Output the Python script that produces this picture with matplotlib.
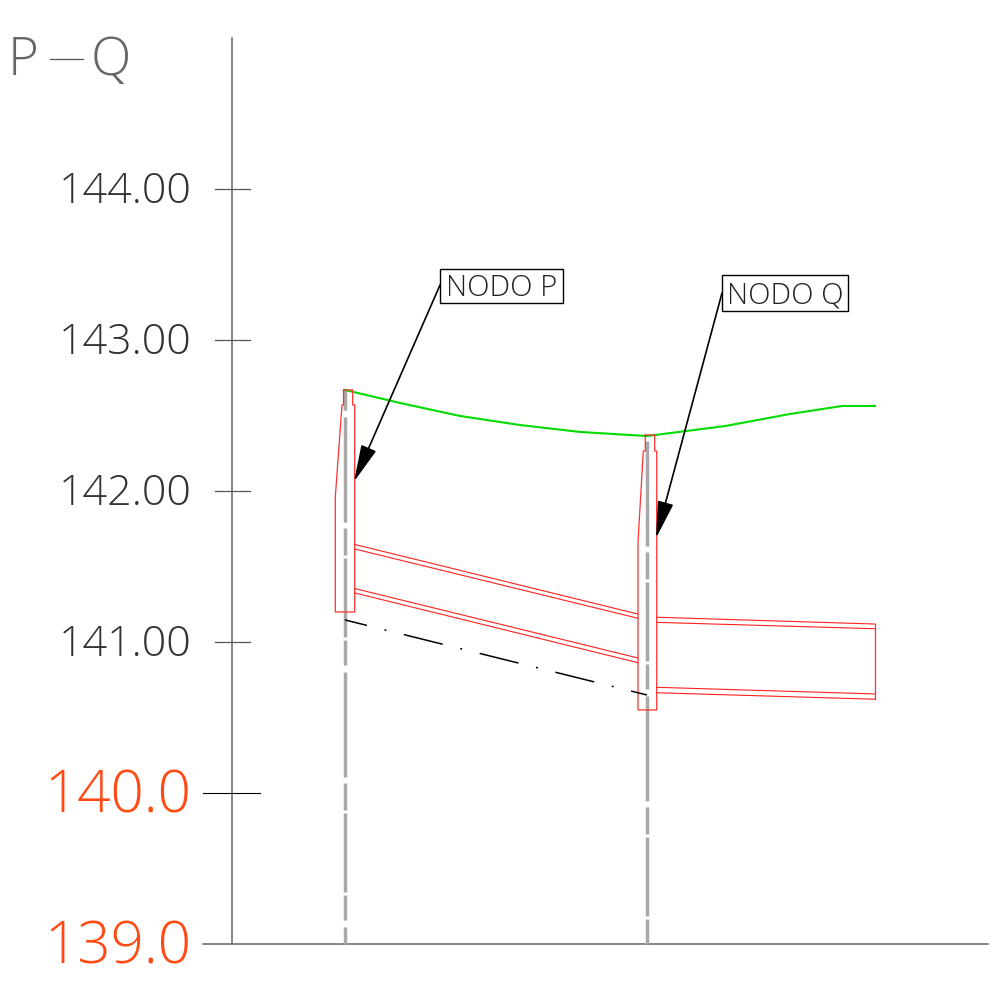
import matplotlib
matplotlib.use("Agg")
import matplotlib.pyplot as plt
from matplotlib.patches import Rectangle

plt.rcParams['font.family'] = ['Open Sans', 'DejaVu Sans']
plt.rcParams['lines.scale_dashes'] = False

# x is distance along the profile, y is elevation
x_left = 232
x_base_end = 988
x_p = 345
x_q = 647
x_end = 875

ticks_black = [141, 142, 143, 144]
ticks_black_labels = ["141.00", "142.00", "143.00", "144.00"]
ticks_red = [139, 140]
ticks_red_labels = ["139.0", "140.0"]

# ground line
ground_x = [345, 400, 460, 520, 580, 647, 725, 790, 842, 875]
ground_y = [142.669, 142.583, 142.497, 142.437, 142.391, 142.364, 142.430, 142.510, 142.563, 142.563]

# manholes
node_p_x = [343.5, 352.7, 352.7, 354.7, 354.7, 335.3, 335.3, 342, 343.5, 343.5]
node_p_y = [142.669, 142.669, 142.570, 142.570, 141.199, 141.199, 141.960, 142.570, 142.570, 142.669]
node_q_x = [645.3, 654.7, 654.7, 656.7, 656.7, 638, 638, 643.3, 645.3, 645.3]
node_q_y = [142.371, 142.371, 142.265, 142.265, 140.550, 140.550, 141.662, 142.265, 142.265, 142.371]

# pipe walls, each one [y at start, y at end]
pipe_pq_x = [354.7, 638]
pipe_pq_walls = [[141.646, 141.185], [141.616, 141.157], [141.354, 140.894], [141.325, 140.863]]
pipe_out_x = [656.7, 875]
pipe_out_walls = [[141.164, 141.119], [141.130, 141.088], [140.700, 140.656], [140.664, 140.621]]
pipe_end_y = [141.119, 140.621]

invert_x = [345, 647]
invert_y = [141.146, 140.649]

label_p = "NODO P"
label_q = "NODO Q"
box_p = [440, 143.247, 123, 0.223]
box_q = [722, 143.192, 126, 0.238]
leader_p = [440, 143.364, 354, 142.062]
leader_q = [722, 143.311, 656, 141.688]

center_dashes = (75.6, 5, 18, 2.2, 56.9, 2.2, 19.4, 4.3)

fig = plt.figure(figsize=(9.91, 9.88), dpi=100)
ax = fig.add_axes([0, 0, 1, 1])
ax.set_xlim(0, 991)
ax.set_ylim(139 + (944 - 988) / 151, 139 + 944 / 151)
ax.axis('off')

# axes
ax.plot([x_left, x_left], [139, 145.0], color='#666666', lw=1.1)
ax.plot([203, x_base_end], [139, 139], color='#666666', lw=1.1)
for t in ticks_black:
    ax.plot([215, 250], [t, t], color='#555555', lw=0.9)
ax.plot([203, 260], [140, 140], color='black', lw=0.8)

for t, s in zip(ticks_black, ticks_black_labels):
    ax.text(192, t - 0.093, s, ha='right', va='baseline', fontsize=31, color='#333333', fontweight='light')
for t, s in zip(ticks_red, ticks_red_labels):
    ax.text(191, t - 0.13, s, ha='right', va='baseline', fontsize=42, color='#FF4A14', fontweight='light')

ax.text(8, 144.755, "P", ha='left', va='baseline', fontsize=38, color='#666666', fontweight='light')
ax.plot([50, 83], [144.861, 144.861], color='#555555', lw=0.9)
ax.text(91, 144.755, "Q", ha='left', va='baseline', fontsize=38, color='#666666', fontweight='light')

# center lines of the manholes, drawn from the bottom up
ax.plot([x_p, x_p], [139, 142.669], color='#A8A8A8', lw=2.5, linestyle=(63.4, center_dashes))
ax.plot([x_q, x_q], [139, 142.364], color='#A8A8A8', lw=2.5, linestyle=(80.6, center_dashes))

ax.plot(ground_x, ground_y, color='#00DC00', lw=1.5)

ax.plot(node_p_x, node_p_y, color='#FF3030', lw=0.9)
ax.plot(node_q_x, node_q_y, color='#FF3030', lw=0.9)
for wall in pipe_pq_walls:
    ax.plot(pipe_pq_x, wall, color='#FF2020', lw=0.8)
for wall in pipe_out_walls:
    ax.plot(pipe_out_x, wall, color='#FF2020', lw=0.8)
ax.plot([x_end, x_end], pipe_end_y, color='#FF3030', lw=0.9)

ax.plot(invert_x, invert_y, color='black', lw=1.1, linestyle=(12.5, (28.8, 13, 1.4, 13)))

# node labels
for box, text in [(box_p, label_p), (box_q, label_q)]:
    ax.add_patch(Rectangle((box[0], box[1]), box[2], box[3], fill=False, ec='black', lw=1.0))
    ax.text(box[0] + box[2] / 2, box[1] + box[3] * 0.2, text, ha='center', va='baseline',
            fontsize=21, color='#222222', fontweight='light')

for lead in [leader_p, leader_q]:
    ax.annotate('', xy=(lead[2], lead[3]), xytext=(lead[0], lead[1]),
                arrowprops=dict(arrowstyle='-|>,head_length=23,head_width=5', mutation_scale=1,
                                color='black', lw=1.2, shrinkA=0, shrinkB=0))

fig.savefig('out.png', dpi=100)
